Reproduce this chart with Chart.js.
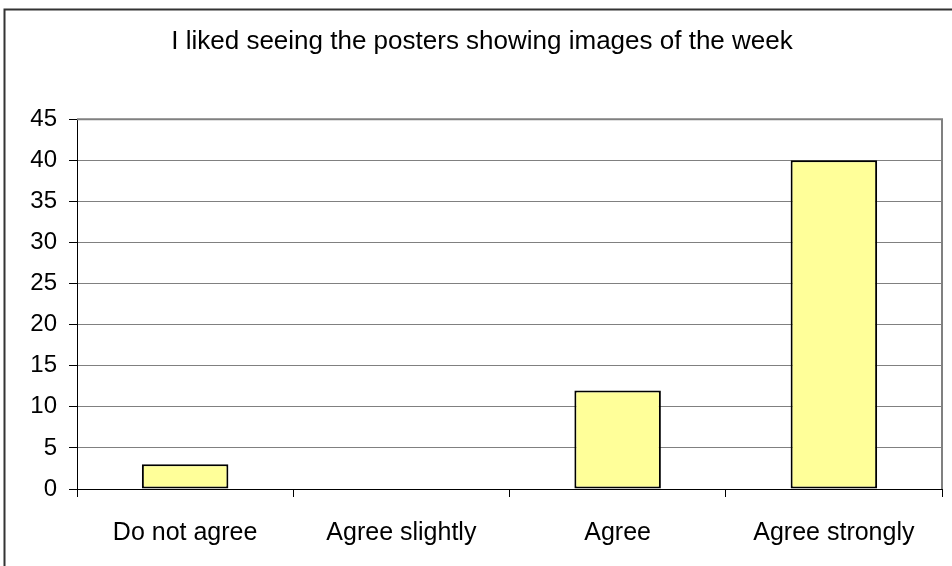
<!DOCTYPE html>
<html>
<head>
<meta charset="utf-8">
<script src="https://cdn.jsdelivr.net/npm/chart.js@4"></script>
<style>
  html, body { margin: 0; padding: 0; background: #fff; }
  #wrap { width: 952px; height: 566px; }
</style>
</head>
<body>
<div id="wrap"><canvas id="chart" width="952" height="566"></canvas></div>
<script>
const chartTitle = "I liked seeing the posters showing images of the week";
const categories = ["Do not agree", "Agree slightly", "Agree", "Agree strongly"];
const responses = [3, 0, 12, 40];
const yMax = 45;
const yStep = 5;

// frame round the chart and the grey plot-area border
const framePlugin = {
  id: 'frame',
  afterDraw(chart) {
    const ctx = chart.ctx;
    const a = chart.chartArea;
    ctx.save();
    ctx.strokeStyle = '#333333';
    ctx.lineWidth = 2;
    ctx.beginPath();
    ctx.moveTo(4.5, 580);
    ctx.lineTo(4.5, 9.5);
    ctx.lineTo(960, 9.5);
    ctx.stroke();

    ctx.strokeStyle = '#808080';
    ctx.lineWidth = 2;
    ctx.beginPath();
    ctx.moveTo(a.left, a.top);
    ctx.lineTo(a.right, a.top);
    ctx.lineTo(a.right, a.bottom);
    ctx.stroke();
    ctx.restore();
  }
};

const ctx = document.getElementById('chart').getContext('2d');
new Chart(ctx, {
  type: 'bar',
  data: {
    labels: categories,
    datasets: [{
      label: 'Responses',
      data: responses,
      backgroundColor: '#FFFF99',
      borderColor: '#000000',
      borderWidth: 2,
      borderSkipped: false,
      barPercentage: 0.4,
      categoryPercentage: 1.0
    }]
  },
  options: {
    responsive: false,
    animation: false,
    devicePixelRatio: 1,
    layout: { padding: { left: 22, right: 10, top: 0, bottom: 0 } },
    plugins: {
      legend: { display: false },
      tooltip: { enabled: false },
      title: {
        display: true,
        text: chartTitle,
        color: '#000000',
        font: { family: 'Liberation Sans, Arial, sans-serif', size: 26, weight: 'normal' },
        padding: { top: 26, bottom: 62 }
      }
    },
    scales: {
      x: {
        afterFit(scale) { scale.height = 77; },
        grid: {
          offset: true,
          drawOnChartArea: false,
          drawTicks: true,
          tickLength: 8,
          color: '#000000'
        },
        border: { display: true, color: '#000000', width: 1 },
        ticks: {
          color: '#000000',
          padding: 21,
          maxRotation: 0,
          font: { family: 'Liberation Sans, Arial, sans-serif', size: 25 }
        }
      },
      y: {
        min: 0,
        max: yMax,
        afterFit(scale) { scale.width = 55; },
        grid: {
          color: '#808080',
          lineWidth: 1,
          tickLength: 8,
          tickColor: '#000000'
        },
        border: { display: true, color: '#000000', width: 1 },
        ticks: {
          stepSize: yStep,
          color: '#000000',
          padding: 12,
          font: { family: 'Liberation Sans, Arial, sans-serif', size: 24 }
        }
      }
    }
  },
  plugins: [framePlugin]
});
</script>
</body>
</html>
